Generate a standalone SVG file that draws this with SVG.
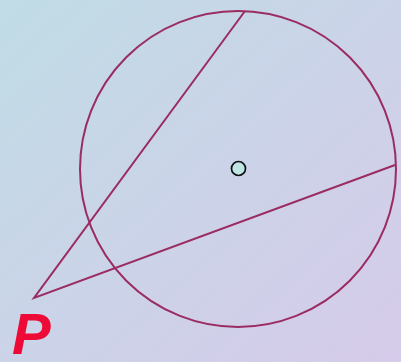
<svg xmlns="http://www.w3.org/2000/svg" width="401" height="362" viewBox="0 0 401 362">
<defs>
<linearGradient id="bg" x1="0" y1="0" x2="1" y2="1">
<stop offset="0" stop-color="#c0dce6"/>
<stop offset="1" stop-color="#d6cbea"/>
</linearGradient>
<style>
.ln{fill:none;stroke:#9a2c62;stroke-width:2}
.lbl{font-family:"Liberation Sans",Arial,sans-serif;font-weight:bold;font-style:italic;fill:#ee0a36}
</style>
</defs>
<rect width="401" height="362" fill="url(#bg)"/>
<g id="circle"><circle class="ln" cx="238" cy="169" r="158"/></g>
<g id="center"><circle cx="238.5" cy="168.5" r="7" fill="#bfe6e4" stroke="#111" stroke-width="1.7"/></g>
<g id="connectors">
<polyline class="ln" points="245,11 34,298 395,165"/>
</g>
<g id="P"><text class="lbl" x="12" y="354" font-size="58">P</text></g>
</svg>
